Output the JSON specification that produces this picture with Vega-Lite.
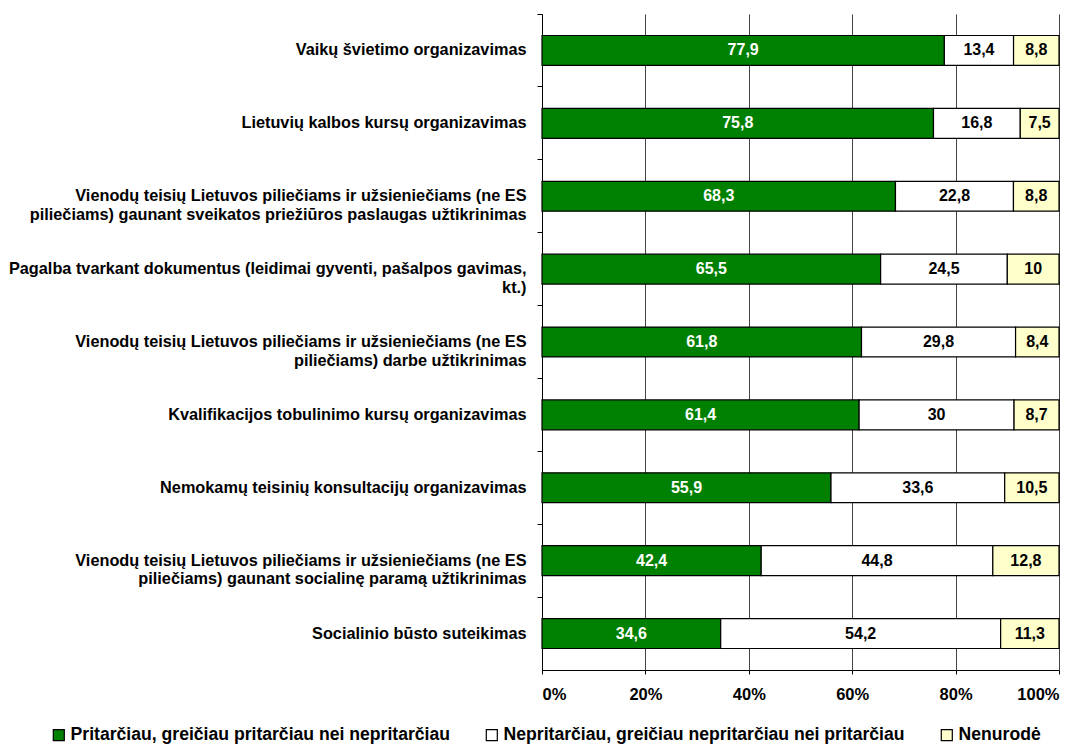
{
  "$schema": "https://vega.github.io/schema/vega-lite/v6.json",
  "width": 517,
  "height": 656,
  "autosize": {"type": "none"},
  "padding": {"left": 542, "top": 14, "right": 22, "bottom": 74},
  "background": "white",
  "config": {
    "view": {"stroke": null},
    "font": "Liberation Sans",
    "locale": {"number": {"decimal": ",", "thousands": ".", "grouping": [3], "currency": ["", " €"]}}
  },
  "data": {
    "values": [
      {"cat": "Vaikų švietimo organizavimas", "series": "Pritarčiau, greičiau pritarčiau nei nepritarčiau", "k": 1, "v": 77.9},
      {"cat": "Vaikų švietimo organizavimas", "series": "Nepritarčiau, greičiau nepritarčiau nei pritarčiau", "k": 2, "v": 13.4},
      {"cat": "Vaikų švietimo organizavimas", "series": "Nenurodė", "k": 3, "v": 8.8},
      {"cat": "Lietuvių kalbos kursų organizavimas", "series": "Pritarčiau, greičiau pritarčiau nei nepritarčiau", "k": 1, "v": 75.8},
      {"cat": "Lietuvių kalbos kursų organizavimas", "series": "Nepritarčiau, greičiau nepritarčiau nei pritarčiau", "k": 2, "v": 16.8},
      {"cat": "Lietuvių kalbos kursų organizavimas", "series": "Nenurodė", "k": 3, "v": 7.5},
      {"cat": "Vienodų teisių Lietuvos piliečiams ir užsieniečiams (ne ES|piliečiams) gaunant sveikatos priežiūros paslaugas užtikrinimas", "series": "Pritarčiau, greičiau pritarčiau nei nepritarčiau", "k": 1, "v": 68.3},
      {"cat": "Vienodų teisių Lietuvos piliečiams ir užsieniečiams (ne ES|piliečiams) gaunant sveikatos priežiūros paslaugas užtikrinimas", "series": "Nepritarčiau, greičiau nepritarčiau nei pritarčiau", "k": 2, "v": 22.8},
      {"cat": "Vienodų teisių Lietuvos piliečiams ir užsieniečiams (ne ES|piliečiams) gaunant sveikatos priežiūros paslaugas užtikrinimas", "series": "Nenurodė", "k": 3, "v": 8.8},
      {"cat": "Pagalba tvarkant dokumentus (leidimai gyventi, pašalpos gavimas,|kt.)", "series": "Pritarčiau, greičiau pritarčiau nei nepritarčiau", "k": 1, "v": 65.5},
      {"cat": "Pagalba tvarkant dokumentus (leidimai gyventi, pašalpos gavimas,|kt.)", "series": "Nepritarčiau, greičiau nepritarčiau nei pritarčiau", "k": 2, "v": 24.5},
      {"cat": "Pagalba tvarkant dokumentus (leidimai gyventi, pašalpos gavimas,|kt.)", "series": "Nenurodė", "k": 3, "v": 10},
      {"cat": "Vienodų teisių Lietuvos piliečiams ir užsieniečiams (ne ES|piliečiams) darbe užtikrinimas", "series": "Pritarčiau, greičiau pritarčiau nei nepritarčiau", "k": 1, "v": 61.8},
      {"cat": "Vienodų teisių Lietuvos piliečiams ir užsieniečiams (ne ES|piliečiams) darbe užtikrinimas", "series": "Nepritarčiau, greičiau nepritarčiau nei pritarčiau", "k": 2, "v": 29.8},
      {"cat": "Vienodų teisių Lietuvos piliečiams ir užsieniečiams (ne ES|piliečiams) darbe užtikrinimas", "series": "Nenurodė", "k": 3, "v": 8.4},
      {"cat": "Kvalifikacijos tobulinimo kursų organizavimas", "series": "Pritarčiau, greičiau pritarčiau nei nepritarčiau", "k": 1, "v": 61.4},
      {"cat": "Kvalifikacijos tobulinimo kursų organizavimas", "series": "Nepritarčiau, greičiau nepritarčiau nei pritarčiau", "k": 2, "v": 30},
      {"cat": "Kvalifikacijos tobulinimo kursų organizavimas", "series": "Nenurodė", "k": 3, "v": 8.7},
      {"cat": "Nemokamų teisinių konsultacijų organizavimas", "series": "Pritarčiau, greičiau pritarčiau nei nepritarčiau", "k": 1, "v": 55.9},
      {"cat": "Nemokamų teisinių konsultacijų organizavimas", "series": "Nepritarčiau, greičiau nepritarčiau nei pritarčiau", "k": 2, "v": 33.6},
      {"cat": "Nemokamų teisinių konsultacijų organizavimas", "series": "Nenurodė", "k": 3, "v": 10.5},
      {"cat": "Vienodų teisių Lietuvos piliečiams ir užsieniečiams (ne ES|piliečiams) gaunant socialinę paramą užtikrinimas", "series": "Pritarčiau, greičiau pritarčiau nei nepritarčiau", "k": 1, "v": 42.4},
      {"cat": "Vienodų teisių Lietuvos piliečiams ir užsieniečiams (ne ES|piliečiams) gaunant socialinę paramą užtikrinimas", "series": "Nepritarčiau, greičiau nepritarčiau nei pritarčiau", "k": 2, "v": 44.8},
      {"cat": "Vienodų teisių Lietuvos piliečiams ir užsieniečiams (ne ES|piliečiams) gaunant socialinę paramą užtikrinimas", "series": "Nenurodė", "k": 3, "v": 12.8},
      {"cat": "Socialinio būsto suteikimas", "series": "Pritarčiau, greičiau pritarčiau nei nepritarčiau", "k": 1, "v": 34.6},
      {"cat": "Socialinio būsto suteikimas", "series": "Nepritarčiau, greičiau nepritarčiau nei pritarčiau", "k": 2, "v": 54.2},
      {"cat": "Socialinio būsto suteikimas", "series": "Nenurodė", "k": 3, "v": 11.3}
    ]
  },
  "transform": [
    {"stack": "v", "groupby": ["cat"], "sort": [{"field": "k", "order": "ascending"}], "offset": "normalize", "as": ["x0", "x1"]},
    {"calculate": "(datum.x0 + datum.x1) / 2", "as": "mid"}
  ],
  "encoding": {
    "y": {
      "field": "cat",
      "type": "nominal",
      "sort": null,
      "title": null,
      "scale": {"paddingInner": 0, "paddingOuter": 0},
      "axis": {
        "labelExpr": "split(datum.label, '|')",
        "labelFont": "Liberation Sans",
        "labelFontSize": 16.3,
        "labelFontWeight": "bold",
        "labelColor": "black",
        "labelLimit": 0,
        "labelLineHeight": 18.5,
        "labelPadding": 11,
        "bandPosition": 0,
        "tickColor": "black",
        "tickSize": 5,
        "domainColor": "black",
        "grid": false
      }
    }
  },
  "layer": [
    {
      "mark": {"type": "bar", "height": {"band": 0.41}, "stroke": "black", "strokeWidth": 1.2},
      "encoding": {
        "x": {
          "field": "x0",
          "type": "quantitative",
          "title": null,
          "scale": {"domain": [0, 1], "nice": false},
          "axis": {
            "format": ".0%",
            "values": [0, 0.2, 0.4, 0.6, 0.8, 1],
            "labelFont": "Liberation Sans",
            "labelFontSize": 16.5,
            "labelFontWeight": "bold",
            "labelColor": "black",
            "labelPadding": 12,
            "tickColor": "black",
            "tickSize": 4,
            "domainColor": "black",
            "domainWidth": 1.2,
            "grid": true,
            "gridColor": "#444",
            "gridWidth": 1
          }
        },
        "x2": {"field": "x1"},
        "color": {
          "field": "series",
          "type": "nominal",
          "sort": null,
          "scale": {
            "domain": ["Pritarčiau, greičiau pritarčiau nei nepritarčiau", "Nepritarčiau, greičiau nepritarčiau nei pritarčiau", "Nenurodė"],
            "range": ["#008000", "#ffffff", "#ffffcc"]
          },
          "legend": {
            "title": null,
            "orient": "none",
            "direction": "horizontal",
            "legendX": -492,
            "legendY": 712,
            "symbolType": "square",
            "symbolSize": 121,
            "symbolStrokeColor": "black",
            "symbolStrokeWidth": 1.2,
            "symbolOpacity": 1,
            "labelFont": "Liberation Sans",
            "labelFontSize": 17.6,
            "labelFontWeight": "bold",
            "labelColor": "black",
            "labelLimit": 0,
            "labelOffset": 3,
            "columnPadding": 33
          }
        }
      }
    },
    {
      "mark": {"type": "text", "font": "Liberation Sans", "fontSize": 16, "fontWeight": "bold", "align": "center", "baseline": "middle"},
      "encoding": {
        "x": {"field": "mid", "type": "quantitative"},
        "text": {"field": "v", "type": "quantitative", "format": ".3~g"},
        "color": {
          "condition": {"test": "datum.k === 1", "value": "white"},
          "value": "black"
        }
      }
    }
  ]
}
